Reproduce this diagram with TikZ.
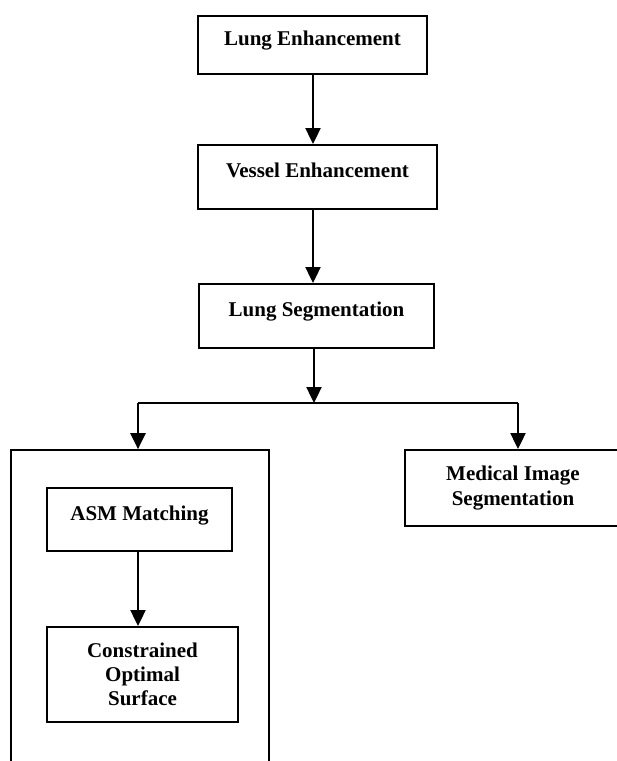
\documentclass[tikz,border=0pt]{standalone}
\usepackage{fontspec}
\setmainfont{Liberation Serif}
\usetikzlibrary{arrows.meta}
\begin{document}
\begin{tikzpicture}[x=1pt,y=-1pt,
  box/.style={draw, line width=2pt, rectangle, inner sep=0pt,
    font=\bfseries\fontsize{21}{24}\selectfont, align=center},
  one/.style={text height=15pt, text depth=14pt},
  arr/.style={line width=2.4pt, -{Triangle[width=15pt,length=16pt]}},
  plain/.style={line width=2.2pt}
]
\useasboundingbox (0,0) rectangle (617,761);
\clip (0,0) rectangle (617,761);
\node[box, one, minimum width=229pt, minimum height=58pt] (le) at (312.5,45) {Lung Enhancement};
\node[box, one, minimum width=239pt, minimum height=64pt] (ve) at (317.5,177) {Vessel Enhancement};
\node[box, one, minimum width=235pt, minimum height=64pt] (ls) at (316.5,316) {Lung Segmentation};
\node[draw, line width=1.7pt, inner sep=0pt, minimum width=258pt, minimum height=350pt] (outer) at (140,625) {};
\node[box, one, minimum width=185pt, minimum height=63pt] (asm) at (139.5,519.5) {ASM Matching};
\node[box, minimum width=191pt, minimum height=95pt] (cos) at (142.5,674.5) {Constrained\\Optimal\\Surface};
\node[box, minimum width=216pt, minimum height=76pt, font=\bfseries\fontsize{21}{25}\selectfont] (med) at (513,488) {Medical Image\\Segmentation};
\coordinate (a1) at (313,0);
\coordinate (j) at (314,403);
\coordinate (jl) at (138,403);
\coordinate (jr) at (518,403);
\draw[arr] (le.south -| a1) -- (ve.north -| a1);
\draw[arr] (ve.south -| a1) -- (ls.north -| a1);
\draw[arr] (ls.south -| j) -- (j);
\draw[plain] (jl) -- (jr);
\draw[arr] (jl) -- (outer.north -| jl);
\draw[arr] (jr) -- (med.north -| jr);
\draw[arr] (asm.south -| jl) -- (cos.north -| jl);
\end{tikzpicture}
\end{document}
